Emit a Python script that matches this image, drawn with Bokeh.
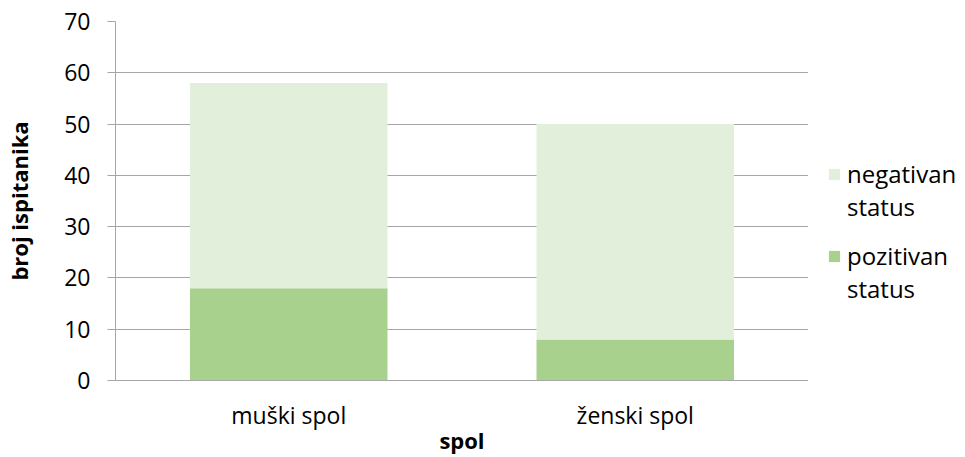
from bokeh.plotting import figure
from bokeh.layouts import row
from bokeh.models import FactorRange, Range1d, Legend, LegendItem, SingleIntervalTicker, ColumnDataSource
from bokeh.embed import file_html
from bokeh.resources import INLINE

categories = ["muški spol", "ženski spol"]
pozitivan = [18, 8]
negativan = [40, 42]
series = ["pozitivan", "negativan"]
legend_first = ["pozitivan", "negativan"]
legend_second = ["status", "status"]
colors = ["#a9d18e", "#e2efda"]

FONT = "Open Sans"

src = ColumnDataSource(dict(cat=categories, pozitivan=pozitivan, negativan=negativan))

p = figure(x_range=FactorRange(*categories), y_range=Range1d(0, 70),
           output_backend="svg", toolbar_location=None,
           min_border_left=115, min_border_right=0, min_border_top=21, min_border_bottom=77)
p.frame_width = 693
p.frame_height = 359

rs = p.vbar_stack(series, x="cat", width=0.57, source=src, color=colors, line_color=None)

p.outline_line_color = None
p.xgrid.grid_line_color = None
p.ygrid.grid_line_color = "#a6a6a6"
p.ygrid.grid_line_width = 1

p.yaxis.ticker = SingleIntervalTicker(interval=10)
p.yaxis.minor_tick_line_color = None
p.yaxis.major_tick_out = 8
p.yaxis.major_tick_in = 0
p.yaxis.axis_line_color = "#a6a6a6"
p.yaxis.major_tick_line_color = "#a6a6a6"
p.yaxis.major_label_text_font = FONT
p.yaxis.major_label_text_font_size = "23px"
p.yaxis.major_label_text_color = "#000000"
p.yaxis.major_label_standoff = 17
p.yaxis.axis_label = "broj ispitanika"
p.yaxis.axis_label_text_font = FONT
p.yaxis.axis_label_text_font_size = "22px"
p.yaxis.axis_label_text_font_style = "bold"
p.yaxis.axis_label_text_color = "#000000"
p.yaxis.axis_label_standoff = 27

p.xaxis.axis_line_color = "#a6a6a6"
p.xaxis.major_tick_line_color = None
p.xaxis.minor_tick_line_color = None
p.xaxis.major_label_text_font = FONT
p.xaxis.major_label_text_font_size = "23px"
p.xaxis.major_label_text_color = "#000000"
p.xaxis.major_label_standoff = 12
p.xaxis.axis_label = "spol"
p.xaxis.axis_label_text_font = FONT
p.xaxis.axis_label_text_font_size = "22px"
p.xaxis.axis_label_text_font_style = "bold"
p.xaxis.axis_label_text_color = "#000000"
p.xaxis.axis_label_standoff = -9

# legend panel: same stacked series as hidden renderers, only the legend shows
lp = figure(width=149, height=457, output_backend="svg", toolbar_location=None,
            x_range=FactorRange(*categories), y_range=Range1d(0, 70),
            min_border_left=0, min_border_right=0, min_border_top=0, min_border_bottom=0)
lp.axis.visible = False
lp.grid.visible = False
lp.outline_line_color = None

lrs = lp.vbar_stack(series, x="cat", width=0.57, source=src, color=colors, line_color=None)
blank = lp.vbar(x="cat", top="negativan", width=0.57, source=src, fill_alpha=0, line_alpha=0)
for r in list(lrs) + [blank]:
    r.visible = False

def make_legend(idx, y):
    leg = Legend(items=[LegendItem(label=legend_first[idx], renderers=[lrs[idx]]),
                        LegendItem(label=legend_second[idx], renderers=[blank])],
                 location=(19, y), orientation="vertical")
    leg.border_line_color = None
    leg.background_fill_alpha = 0
    leg.inactive_fill_alpha = 0
    leg.padding = 0
    leg.margin = 0
    leg.spacing = 0
    leg.glyph_width = 14
    leg.glyph_height = 14
    leg.label_height = 32
    leg.label_standoff = 6
    leg.label_text_font = FONT
    leg.label_text_font_size = "24px"
    leg.label_text_color = "#000000"
    leg.label_text_baseline = "middle"
    lp.add_layout(leg, "center")

make_legend(1, 157)
make_legend(0, 75)

layout = row(p, lp, spacing=0)
open("out.html", "w").write(file_html(layout, INLINE))
